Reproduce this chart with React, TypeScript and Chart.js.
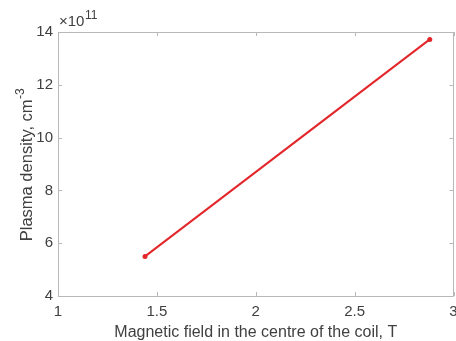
import React, { useEffect, useRef } from "react";
import { Chart, registerables } from "chart.js";

Chart.register(...registerables);

const fieldT = [1.44, 2.88];
const densityE11 = [5.5, 13.72];
const xTicks = [1, 1.5, 2, 2.5, 3];
const yTicks = [4, 6, 8, 10, 12, 14];
const xTitle = "Magnetic field in the centre of the coil, T";
const yTitle = "Plasma density, cm";
const yTitleSup = "-3";
const exponentBase = "\u00d710";
const exponentPower = "11";

const FONT = "'Liberation Sans', Arial, sans-serif";
const TEXT = "#404040";
const AXIS = "#b8b8b8";

const framePlugin = {
  id: "frame",
  afterDraw(chart: any) {
    const { ctx, chartArea: a, scales } = chart;
    const xs = scales.x;
    const ys = scales.y;
    ctx.save();
    ctx.strokeStyle = AXIS;
    ctx.lineWidth = 1;
    ctx.beginPath();
    ctx.rect(Math.round(a.left) + 0.5, Math.round(a.top) + 0.5, Math.round(a.right - a.left) - 1, Math.round(a.bottom - a.top));
    const tl = 4;
    xTicks.forEach((v) => {
      const px = Math.round(xs.getPixelForValue(v)) + 0.5;
      ctx.moveTo(px, a.bottom);
      ctx.lineTo(px, a.bottom - tl);
      ctx.moveTo(px, a.top);
      ctx.lineTo(px, a.top + tl);
    });
    yTicks.forEach((v) => {
      const py = Math.round(ys.getPixelForValue(v)) + 0.5;
      ctx.moveTo(a.left, py);
      ctx.lineTo(a.left + tl, py);
      ctx.moveTo(a.right, py);
      ctx.lineTo(a.right - tl, py);
    });
    ctx.stroke();

    ctx.fillStyle = TEXT;
    // x title
    ctx.font = `16px ${FONT}`;
    ctx.textAlign = "center";
    ctx.textBaseline = "alphabetic";
    ctx.fillText(xTitle, (a.left + a.right) / 2, 337);

    // y title with superscript
    ctx.save();
    ctx.translate(32, (a.top + a.bottom) / 2 + 1);
    ctx.rotate(-Math.PI / 2);
    ctx.font = `16.5px ${FONT}`;
    const w1 = ctx.measureText(yTitle).width;
    ctx.font = `12px ${FONT}`;
    const w2 = ctx.measureText(yTitleSup).width;
    const start = -(w1 + w2) / 2;
    ctx.textAlign = "left";
    ctx.font = `16.5px ${FONT}`;
    ctx.fillText(yTitle, start, 0);
    ctx.font = `12px ${FONT}`;
    ctx.fillText(yTitleSup, start + w1 + 0.5, -8);
    ctx.restore();

    // exponent label
    ctx.textAlign = "left";
    ctx.font = `15px ${FONT}`;
    const bx = a.left + 1;
    const by = a.top - 6;
    ctx.fillText(exponentBase, bx, by);
    const wb = ctx.measureText(exponentBase).width;
    ctx.font = `12px ${FONT}`;
    ctx.fillText(exponentPower, bx + wb + 0.5, by - 7);
    ctx.restore();
  },
};

export default function App() {
  const ref = useRef<HTMLCanvasElement | null>(null);
  useEffect(() => {
    document.body.style.margin = "0";
    if (!ref.current) return;
    const chart = new Chart(ref.current, {
      type: "line",
      data: {
        datasets: [
          {
            data: fieldT.map((x, i) => ({ x, y: densityE11[i] })),
            borderColor: "#e3262a",
            backgroundColor: "#e3262a",
            borderWidth: 2,
            pointRadius: 2.5,
            pointBorderWidth: 0,
            pointHoverRadius: 2.5,
            tension: 0,
          },
        ],
      },
      options: {
        animation: false,
        responsive: false,
        maintainAspectRatio: false,
        events: [],
        layout: { padding: { left: 0, top: 32, right: 2, bottom: 0 } },
        plugins: { legend: { display: false }, tooltip: { enabled: false } },
        scales: {
          x: {
            type: "linear",
            min: 1,
            max: 3,
            afterBuildTicks: (s: any) => {
              s.ticks = xTicks.map((v) => ({ value: v }));
            },
            afterFit: (s: any) => {
              s.height = 45;
              s.paddingLeft = 0;
              s.paddingRight = 0;
            },
            grid: { display: false, drawTicks: false },
            border: { display: false },
            ticks: {
              color: TEXT,
              font: { family: FONT, size: 15 },
              padding: 7,
              maxRotation: 0,
              autoSkip: false,
              callback: (v: any) => String(v),
            },
          },
          y: {
            type: "linear",
            min: 4,
            max: 14,
            afterBuildTicks: (s: any) => {
              s.ticks = yTicks.map((v) => ({ value: v }));
            },
            afterFit: (s: any) => {
              s.width = 58;
              s.paddingTop = 0;
              s.paddingBottom = 0;
            },
            grid: { display: false, drawTicks: false },
            border: { display: false },
            ticks: {
              color: TEXT,
              font: { family: FONT, size: 15 },
              padding: 5,
              autoSkip: false,
              callback: (v: any) => String(v),
            },
          },
        },
      },
      plugins: [framePlugin],
    });
    return () => chart.destroy();
  }, []);
  return (
    <div style={{ width: 456, height: 341, background: "#fff" }}>
      <canvas ref={ref} width={456} height={341} style={{ display: "block" }} />
    </div>
  );
}
